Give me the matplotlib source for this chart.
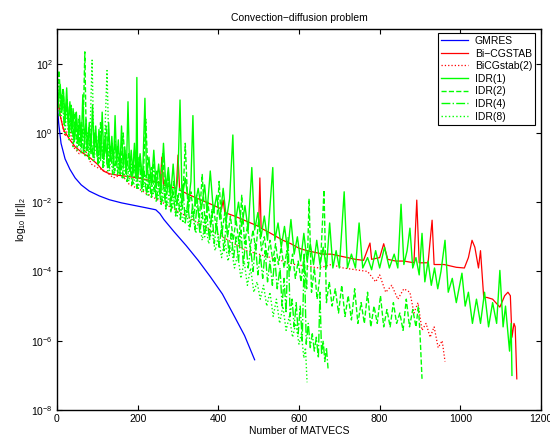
import numpy as np
import matplotlib
matplotlib.use("Agg")
import matplotlib.pyplot as plt

plt.rcParams['font.family'] = ['Liberation Sans', 'DejaVu Sans']
plt.rcParams['mathtext.fontset'] = 'custom'
plt.rcParams['mathtext.rm'] = 'Liberation Sans'
plt.rcParams['mathtext.it'] = 'Liberation Sans:italic'

# residual histories, stored as log10 ||r||_2
gmres_x = [0, 4, 10, 20, 32, 45, 60, 80, 105, 130, 160, 190, 220, 245, 255, 265,
           290, 320, 350, 380, 410, 440, 465, 490]
gmres_y = [0.9, 0.3, -0.3, -0.75, -1.05, -1.3, -1.5, -1.68, -1.82, -1.93, -2.02,
           -2.09, -2.16, -2.22, -2.33, -2.5, -2.85, -3.25, -3.68, -4.15, -4.65,
           -5.3, -5.85, -6.55]

bicgstab_x = [0, 8, 16, 24, 32, 45, 60, 80, 100, 115, 130, 150, 170, 190, 196, 198,
              201, 220, 240, 256, 260, 264, 280, 296, 300, 304, 330, 360, 390, 408,
              412, 416, 440, 460, 480, 500, 503, 506, 530, 560, 580, 600, 620, 640,
              660, 680, 700, 720, 740, 760, 776, 780, 800, 810, 820, 840, 860, 885,
              892, 898, 920, 930, 935, 960, 990, 1010, 1020, 1029, 1036, 1045, 1050,
              1058, 1066, 1080, 1098, 1110, 1118, 1124, 1128, 1133, 1136, 1140]
bicgstab_y = [1.2, 0.5, 0.1, -0.05, -0.2, -0.4, -0.55, -0.7, -0.9, -1.1, -1.18, -1.22,
              -1.25, -1.28, -1.3, -0.64, -1.3, -1.35, -1.4, -1.45, -0.7, -1.5, -1.55,
              -1.6, -0.64, -1.65, -1.8, -1.95, -2.1, -2.2, -1.94, -2.3, -2.4, -2.5,
              -2.6, -2.7, -1.3, -2.75, -2.9, -3.1, -3.2, -3.33, -3.4, -3.45, -3.5,
              -3.5, -3.55, -3.6, -3.65, -3.68, -3.18, -3.65, -3.6, -3.2, -3.65, -3.7,
              -3.7, -3.75, -1.94, -3.75, -3.75, -2.52, -3.8, -3.8, -3.88, -3.9, -3.6,
              -3.1, -3.3, -3.9, -3.4, -4.75, -4.75, -4.8, -5.03, -4.7, -4.6, -4.7,
              -5.9, -5.5, -5.6, -7.1]

bicgstab2_x = [0, 10, 20, 30, 40, 55, 70, 85, 100, 120, 140, 160, 180, 200, 230, 260,
               290, 320, 350, 380, 410, 440, 470, 500, 530, 560, 590, 620, 650, 680,
               710, 740, 770, 790, 800, 815, 830, 845, 860, 875, 885, 895, 905, 915,
               925, 935, 945, 955, 962]
bicgstab2_y = [1.1, 0.4, -0.1, 0.2, -0.4, -0.6, -0.5, -0.9, -1.0, -1.1, -1.3, -1.2,
               -1.5, -1.6, -1.8, -2.0, -2.2, -2.4, -2.6, -2.8, -3.0, -3.2, -3.4, -3.5,
               -3.6, -3.7, -3.8, -3.85, -3.9, -3.8, -3.9, -3.95, -4.0, -4.3, -4.1,
               -4.6, -4.4, -4.8, -4.5, -4.6, -5.2, -4.9, -5.7, -5.5, -5.9, -5.6, -6.2,
               -6.0, -6.6]

idr1_x = [0, 4, 8, 12, 16, 20, 24, 28, 32, 36, 40, 44, 48, 52, 56, 60, 64, 68, 72, 76,
          80, 84, 88, 92, 96, 100, 104, 108, 112, 116, 120, 124, 128, 132, 136, 140,
          144, 148, 152, 156, 160, 164, 168, 172, 176, 180, 184, 188, 192, 196, 198,
          200, 206, 212, 218, 222, 228, 234, 240, 246, 252, 258, 264, 270, 276, 282,
          288, 294, 300, 305, 310, 318, 326, 332, 337, 342, 350, 358, 366, 372, 380,
          388, 396, 404, 412, 420, 428, 436, 442, 450, 458, 466, 474, 483, 490, 498,
          506, 514, 522, 535, 540, 548, 556, 564, 572, 580, 588, 596, 604, 612, 620,
          628, 636, 644, 652, 660, 668, 676, 684, 692, 700, 712, 720, 730, 740, 749,
          758, 770, 780, 790, 800, 812, 824, 836, 845, 853, 860, 868, 875, 882, 890,
          898, 905, 912, 920, 928, 936, 944, 952, 962, 970, 980, 990, 1004, 1012,
          1020, 1030, 1040, 1050, 1060, 1070, 1080, 1090, 1098, 1106, 1112, 1118,
          1122, 1126, 1128]
idr1_y = [1.6, 0.9, 1.4, 0.6, 1.2, 0.4, 1.3, 0.2, 0.9, 0.0, 0.7, -0.2, 0.6, -0.3, 0.5,
          -0.4, 1.1, -0.3, 0.4, -0.5, 0.3, -0.6, 0.8, -0.5, 0.2, -0.7, 0.1, -0.8, 0.6,
          -0.7, 0.0, -0.9, 0.3, -0.8, -0.1, -1.0, 0.5, -0.9, -0.2, -1.1, 0.2, -1.0,
          -0.4, -1.2, 0.9, -1.1, -0.5, -1.2, -0.3, -1.3, 1.6, -1.2, -0.6, -1.4, 1.0,
          -1.3, -0.7, -1.5, -0.5, -1.6, -0.9, -1.7, -0.3, -1.6, -1.0, -1.8, -0.9,
          -1.9, -1.2, 0.95, -1.9, -1.3, -2.0, -1.4, 0.5, -2.1, -1.6, -2.2, -1.5,
          -2.3, -1.1, -2.3, -1.8, -2.5, -1.6, -2.5, -1.9, -0.06, -2.6, -2.0, -2.7,
          -2.1, -2.8, -1.0, -2.8, -2.3, -3.0, -2.4, -3.1, -1.0, -3.1, -2.6, -3.3,
          -2.7, -3.4, -2.5, -3.5, -3.0, -3.7, -2.9, -3.7, -3.2, -3.8, -3.1, -3.8,
          -3.3, -3.9, -2.6, -3.9, -3.4, -3.9, -1.7, -3.9, -3.5, -3.9, -2.6, -3.9,
          -3.6, -3.95, -3.4, -3.9, -3.3, -3.9, -3.5, -3.9, -2.06, -3.8, -3.4, -2.75,
          -3.9, -3.6, -4.1, -2.9, -4.3, -3.7, -4.4, -3.9, -4.5, -4.0, -3.1, -4.6,
          -4.2, -4.9, -4.05, -5.0, -4.6, -5.5, -4.8, -5.5, -4.6, -5.6, -4.9, -5.5,
          -3.97, -5.6, -5.0, -5.8, -6.3, -5.5, -7.0]

idr2_x = [0, 5, 10, 15, 20, 25, 30, 35, 40, 45, 50, 55, 60, 65, 69, 73, 80, 87, 94,
          101, 108, 115, 122, 129, 136, 143, 150, 157, 164, 171, 178, 185, 192, 199,
          206, 213, 220, 227, 234, 241, 248, 255, 262, 269, 276, 283, 290, 297, 304,
          311, 318, 325, 332, 339, 346, 353, 360, 367, 374, 381, 388, 395, 402, 409,
          416, 423, 430, 437, 444, 451, 458, 465, 472, 479, 486, 493, 500, 507, 514,
          521, 528, 535, 542, 549, 556, 563, 570, 577, 584, 591, 598, 605, 612, 619,
          625, 631, 638, 645, 652, 662, 668, 675, 682, 690, 698, 706, 714, 722, 730,
          738, 746, 754, 762, 770, 778, 786, 794, 802, 810, 818, 826, 834, 842, 850,
          858, 866, 874, 882, 890, 896, 900, 905]
idr2_y = [1.2, 1.8, 0.7, 1.3, 0.3, 1.0, 0.1, 0.8, -0.1, 0.6, -0.3, 0.4, -0.4, 0.3,
          2.34, -0.5, 0.2, -0.6, 0.0, -0.8, -0.1, -0.9, 0.2, -1.0, -0.3, -1.1, -0.4,
          -1.2, 0.0, -1.2, -0.6, -1.3, -0.5, -1.4, -0.8, -1.5, 0.4, -1.6, -1.0, -1.7,
          -1.1, -1.8, -0.6, -1.9, -1.3, -2.0, -1.4, -2.1, -1.6, -2.2, -0.3, -2.3,
          -1.7, -2.4, -1.8, -2.5, -1.2, -2.6, -2.0, -2.7, -2.1, -2.8, -1.4, -2.9,
          -2.3, -3.0, -2.4, -3.1, -2.5, -3.2, -1.8, -3.2, -2.7, -3.3, -2.8, -3.4,
          -2.5, -3.4, -3.0, -3.6, -3.1, -3.7, -3.2, -3.8, -3.3, -3.9, -3.4, -4.0,
          -3.5, -4.2, -3.7, -4.3, -3.6, -4.5, -1.9, -4.6, -3.9, -4.8, -4.1, -1.65,
          -4.9, -4.3, -5.0, -4.5, -5.2, -4.4, -5.3, -4.7, -5.4, -4.5, -5.5, -4.9,
          -5.5, -4.6, -5.6, -5.0, -5.5, -4.7, -5.6, -5.1, -5.6, -4.9, -5.5, -5.2,
          -5.7, -4.8, -5.6, -5.1, -5.6, -5.0, -5.8, -7.1]

idr4_x = [0, 6, 12, 18, 24, 30, 36, 42, 48, 54, 60, 66, 72, 78, 84, 90, 96, 102, 108,
          114, 120, 126, 132, 138, 144, 150, 156, 162, 168, 174, 180, 186, 192, 198,
          204, 210, 216, 222, 228, 234, 240, 246, 252, 258, 264, 270, 276, 282, 288,
          294, 300, 306, 312, 318, 324, 330, 336, 342, 348, 354, 360, 366, 372, 378,
          384, 390, 396, 402, 408, 414, 420, 426, 432, 438, 444, 450, 456, 462, 468,
          474, 480, 486, 492, 498, 504, 510, 516, 522, 528, 534, 540, 546, 553, 558,
          563, 568, 573, 578, 583, 588, 593, 598, 603, 608, 613, 618, 623, 628, 633,
          638, 643, 648, 652, 656, 660, 664, 668, 672]
idr4_y = [1.4, 0.5, 1.1, 0.2, 0.9, -0.1, 0.7, -0.3, 0.5, -0.4, 0.3, -0.6, 0.1, -0.7,
          0.0, -0.8, -0.1, -0.9, 0.3, -1.0, -0.3, -1.1, -0.4, -1.2, -0.2, -1.2, -0.6,
          -1.3, -0.5, -1.4, -0.8, -1.5, -0.9, -1.6, -0.7, -1.7, -1.1, -1.8, -1.2,
          -1.9, -0.9, -2.0, -1.4, -2.1, -1.5, -2.2, -1.2, -2.3, -1.7, -2.4, -1.8,
          -2.5, -1.5, -2.6, -2.0, -2.7, -2.1, -2.8, -1.9, -2.9, -2.3, -3.0, -2.4,
          -3.1, -2.2, -3.2, -2.6, -3.3, -2.7, -3.4, -2.5, -3.5, -2.9, -3.6, -3.0,
          -3.7, -2.8, -3.8, -3.1, -3.9, -3.3, -4.0, -3.2, -4.1, -3.5, -4.2, -3.4,
          -4.3, -3.7, -4.4, -3.6, -4.5, -3.9, -5.0, -4.2, -5.2, -3.0, -5.3, -4.8,
          -5.6, -4.9, -5.8, -5.0, -6.0, -3.5, -6.1, -5.5, -6.2, -5.8, -6.3, -5.9,
          -6.5, -4.6, -6.4, -6.0, -6.6, -6.2, -6.8]

idr8_x = [0, 5, 10, 15, 20, 25, 30, 35, 40, 45, 50, 55, 60, 65, 70, 75, 80, 87, 92,
          98, 104, 110, 116, 124, 130, 136, 142, 148, 154, 160, 166, 172, 178, 184,
          190, 196, 202, 208, 214, 220, 226, 232, 238, 244, 250, 256, 262, 268, 274,
          280, 286, 292, 298, 305, 312, 320, 328, 336, 344, 352, 360, 368, 376, 384,
          392, 400, 408, 416, 424, 432, 440, 448, 456, 464, 472, 480, 488, 496, 504,
          512, 520, 528, 536, 544, 552, 560, 568, 576, 584, 592, 600, 606, 612, 616,
          620]
idr8_y = [1.0, 1.5, 0.5, 1.1, 0.0, 0.8, -0.2, 0.6, -0.4, 0.3, -0.5, 0.2, -0.6, 0.1,
          -0.7, 0.0, -0.8, 2.1, -0.8, -0.1, -0.9, -0.2, -1.0, 1.8, -1.1, -0.4, -1.2,
          -0.5, -1.2, -0.7, -1.3, -0.6, -1.4, -0.9, -1.5, -1.0, -1.6, -1.1, -1.7,
          -1.2, -1.8, -1.3, -1.8, -1.4, -1.9, -1.5, -2.0, -1.6, -2.1, -1.5, -2.2,
          -1.8, -2.4, -2.0, -2.6, -2.2, -2.8, -2.3, -2.9, -2.5, -3.1, -2.6, -3.2,
          -2.8, -3.4, -3.0, -3.6, -3.1, -3.7, -3.3, -3.9, -3.5, -4.2, -3.7, -4.4,
          -3.9, -4.6, -4.3, -4.8, -4.4, -5.0, -4.6, -5.3, -4.8, -5.5, -5.0, -5.7,
          -5.3, -5.9, -5.5, -6.1, -5.8, -6.5, -6.2, -7.2]

GREEN = '#00ff00'
series = [
    ('GMRES', gmres_x, gmres_y, 'b', '-'),
    ('Bi\u2212CGSTAB', bicgstab_x, bicgstab_y, 'r', '-'),
    ('BiCGstab(2)', bicgstab2_x, bicgstab2_y, 'r', ':'),
    ('IDR(1)', idr1_x, idr1_y, GREEN, '-'),
    ('IDR(2)', idr2_x, idr2_y, GREEN, '--'),
    ('IDR(4)', idr4_x, idr4_y, GREEN, '-.'),
    ('IDR(8)', idr8_x, idr8_y, GREEN, ':'),
]

fig = plt.figure(figsize=(5.5, 4.36), dpi=100)
ax = fig.add_axes([57 / 550, 26 / 436, 484 / 550, 381 / 436])

for name, xs, ys, col, ls in series:
    lw = 1.0 if col == GREEN else 0.9
    ax.semilogy(xs, 10.0 ** np.array(ys), color=col, linestyle=ls, lw=lw, label=name)

ax.set_xlim(0, 1200)
ax.set_ylim(1e-8, 1e3)
ax.set_xticks(np.arange(0, 1201, 200))
ax.set_yticks([1e-8, 1e-6, 1e-4, 1e-2, 1e0, 1e2])
ax.set_yticklabels([r'$10^{-8}$', r'$10^{-6}$', r'$10^{-4}$', r'$10^{-2}$',
                    r'$10^{0}$', r'$10^{2}$'])
ax.minorticks_off()
ax.tick_params(direction='in', length=3.5, width=0.8, labelsize=7.5,
               top=True, right=True, pad=3)
for sp in ax.spines.values():
    sp.set_linewidth(1.0)

ax.set_title('Convection\u2212diffusion problem', fontsize=7.5, pad=6)
ax.set_xlabel('Number of MATVECS', fontsize=7.5, labelpad=1)
ax.set_ylabel(r'log$_{10}$ ||r||$_2$', fontsize=7.5, labelpad=2)

leg = ax.legend(loc='upper right', bbox_to_anchor=(0.988, 0.99), fontsize=7.5,
                fancybox=False, edgecolor='black', framealpha=1, borderpad=0.3,
                labelspacing=0.25, handlelength=2.6, handletextpad=0.6,
                borderaxespad=0)
leg.get_frame().set_linewidth(0.8)

fig.savefig('out.png', dpi=100)
